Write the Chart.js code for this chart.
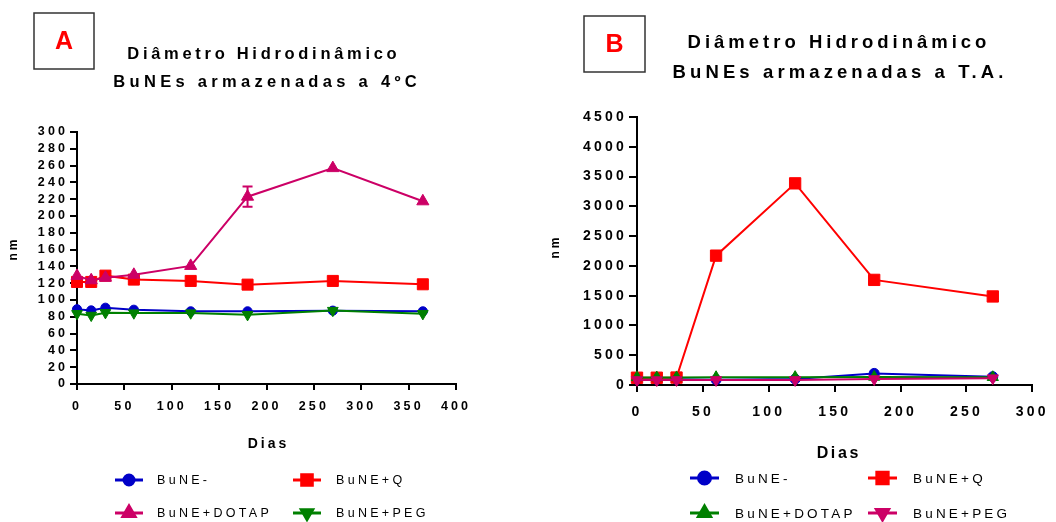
<!DOCTYPE html>
<html>
<head>
<meta charset="utf-8">
<script src="https://cdn.jsdelivr.net/npm/chart.js@4.4.1/dist/chart.umd.min.js"></script>
<style>
  html, body { margin: 0; padding: 0; background: #fff; width: 1056px; height: 522px; overflow: hidden; }
  .painel { position: absolute; top: 0; width: 528px; height: 522px; }
  #painelA { left: 0; }
  #painelB { left: 528px; }
</style>
</head>
<body>
<div class="painel" id="painelA"><canvas id="graficoA" width="528" height="522"></canvas></div>
<div class="painel" id="painelB"><canvas id="graficoB" width="528" height="522"></canvas></div>
<script>
// Diâmetro hidrodinâmico (nm) ao longo do tempo de armazenamento (dias)
const nomes = ['BuNE-', 'BuNE+Q', 'BuNE+DOTAP', 'BuNE+PEG'];

// A: armazenadas a 4ºC
const diasA = [0, 15, 30, 60, 120, 180, 270, 365];
const buneA = [89, 87.6, 90.8, 88.4, 86.5, 86.5, 87.3, 86.5];
const buneQA = [121.5, 121.5, 129, 124.3, 122.7, 118.3, 122.7, 118.7];
const buneDotapA = [128.7, 123.5, 126.5, 130, 140.6, 223, 257, 217.5];
const bunePegA = [83.7, 81.7, 84.9, 84.5, 84.5, 82.5, 87.5, 83.7];
const desvioDotapA = [0, 0, 0, 0, 0, 12, 0, 0];
const titulosA = ['Diâmetro Hidrodinâmico', 'BuNEs armazenadas a 4ºC'];

// B: armazenadas à temperatura ambiente
const diasB = [0, 15, 30, 60, 120, 180, 270];
const buneB = [95, 92, 95, 90, 100, 195, 140];
const buneQB = [122, 122, 125, 2172, 3386, 1765, 1487];
const buneDotapB = [128, 126, 127, 130, 132, 135, 130];
const bunePegB = [85, 83, 85, 85, 85, 100, 115];
const titulosB = ['Diâmetro Hidrodinâmico', 'BuNEs armazenadas a T.A.'];

const FONTE = "'Liberation Sans', Arial, Helvetica, sans-serif";
const AZUL = '#0000c8', VERMELHO = '#ff0000', MAGENTA = '#cc0066', VERDE = '#008000';

function pontos(dias, valores) {
  return dias.map((d, i) => ({ x: d, y: valores[i] }));
}

function serie(nome, dias, valores, cor, estilo, raio, rotacao, ordem) {
  return {
    label: nome,
    data: pontos(dias, valores),
    borderColor: cor,
    backgroundColor: cor,
    borderWidth: 2,
    pointStyle: estilo,
    pointRotation: rotacao,
    pointRadius: raio,
    pointBorderWidth: 1,
    pointBorderColor: cor,
    pointBackgroundColor: cor,
    tension: 0,
    fill: false,
    clip: false,
    order: ordem
  };
}

function textoEspacado(ctx, txt, x, y, esp, alinhamento) {
  ctx.letterSpacing = esp + 'px';
  ctx.textAlign = alinhamento || 'center';
  const dx = (alinhamento === 'left') ? 0 : esp / 2;
  ctx.fillText(txt, x + dx, y);
}

// Títulos, caixa da letra, rótulos dos eixos, legenda e barra de erro
const decoracao = {
  id: 'decoracao',
  beforeDraw(chart, args, o) {
    chart.ctx.letterSpacing = o.espacoTicks + 'px';
  },
  afterDatasetsDraw(chart, args, o) {
    if (!o.erros) return;
    const ctx = chart.ctx;
    const sx = chart.scales.x, sy = chart.scales.y;
    ctx.save();
    o.erros.forEach(e => {
      e.desvios.forEach((d, i) => {
        if (!d) return;
        const px = sx.getPixelForValue(e.dias[i]);
        const y1 = sy.getPixelForValue(e.valores[i] + d);
        const y2 = sy.getPixelForValue(e.valores[i] - d);
        ctx.strokeStyle = e.cor;
        ctx.lineWidth = 2;
        ctx.beginPath();
        ctx.moveTo(px, y1); ctx.lineTo(px, y2);
        ctx.moveTo(px - 5, y1); ctx.lineTo(px + 5, y1);
        ctx.moveTo(px - 5, y2); ctx.lineTo(px + 5, y2);
        ctx.stroke();
      });
    });
    ctx.restore();
  },
  afterDraw(chart, args, o) {
    const ctx = chart.ctx;
    ctx.save();
    ctx.fillStyle = '#000';
    ctx.textBaseline = 'middle';

    // títulos
    ctx.font = 'bold ' + o.titulo.tam + 'px ' + FONTE;
    o.titulo.linhas.forEach((t, i) => {
      textoEspacado(ctx, t, o.titulo.x[i], o.titulo.y[i], o.titulo.esp[i]);
    });

    // caixa com a letra do painel
    const c = o.caixa;
    ctx.strokeStyle = '#333';
    ctx.lineWidth = 1.5;
    ctx.strokeRect(c.x, c.y, c.w, c.h);
    ctx.fillStyle = '#ff0000';
    ctx.font = 'bold 25px ' + FONTE;
    textoEspacado(ctx, c.letra, c.x + c.w / 2, c.y + c.h / 2 + 1, 0);

    // rótulos dos eixos
    ctx.fillStyle = '#000';
    ctx.font = 'bold ' + o.eixoX.tam + 'px ' + FONTE;
    textoEspacado(ctx, 'Dias', o.eixoX.x, o.eixoX.y, o.eixoX.esp);
    ctx.save();
    ctx.translate(o.eixoY.x, o.eixoY.y);
    ctx.rotate(-Math.PI / 2);
    ctx.font = 'bold ' + o.eixoY.tam + 'px ' + FONTE;
    textoEspacado(ctx, 'nm', 0, 0, o.eixoY.esp);
    ctx.restore();

    // legenda em duas colunas
    const L = o.legenda;
    chart.data.datasets.forEach((ds, i) => {
      const col = i % 2, lin = Math.floor(i / 2);
      const x1 = L.colX[col], x2 = x1 + L.larguraLinha, y = L.linY[lin];
      ctx.strokeStyle = ds.borderColor;
      ctx.lineWidth = 3;
      ctx.beginPath();
      ctx.moveTo(x1, y); ctx.lineTo(x2, y);
      ctx.stroke();
      ctx.fillStyle = ds.borderColor;
      Chart.helpers.drawPoint(ctx, {
        pointStyle: ds.pointStyle,
        rotation: ds.pointRotation,
        radius: L.raios[i],
        borderWidth: 1
      }, (x1 + x2) / 2, y);
      ctx.fillStyle = '#000';
      ctx.font = L.tam + 'px ' + FONTE;
      textoEspacado(ctx, ds.label, L.textoX[col], y + 1, L.esp, 'left');
    });
    ctx.restore();
  }
};

function eixos(cfg) {
  const fonteTick = { family: FONTE, size: cfg.tamTick, weight: 'bold' };
  const semSeparador = v => String(v);
  return {
    x: {
      type: 'linear', min: cfg.xMin, max: cfg.xMax,
      afterFit: s => { s.height = cfg.alturaX; },
      ticks: { stepSize: cfg.xPasso, color: '#000', font: fonteTick, padding: cfg.padX, maxRotation: 0, autoSkip: false, callback: semSeparador },
      grid: { display: true, drawOnChartArea: false, drawTicks: true, tickLength: cfg.tickX, color: '#000', lineWidth: 2 },
      border: { display: true, color: '#000', width: 2 }
    },
    y: {
      type: 'linear', min: cfg.yMin, max: cfg.yMax,
      afterFit: s => { s.width = cfg.larguraY; },
      ticks: { stepSize: cfg.yPasso, color: '#000', font: fonteTick, padding: cfg.padY, autoSkip: false, callback: semSeparador },
      grid: { display: true, drawOnChartArea: false, drawTicks: true, tickLength: cfg.tickY, color: '#000', lineWidth: 2 },
      border: { display: true, color: '#000', width: 2 }
    }
  };
}

const opcoesBase = {
  responsive: false,
  animation: false,
  devicePixelRatio: 1,
  events: [],
  plugins: { legend: { display: false }, title: { display: false }, tooltip: { enabled: false } }
};

// Painel A
new Chart(document.getElementById('graficoA'), {
  type: 'line',
  data: {
    datasets: [
      serie(nomes[0], diasA, buneA, AZUL, 'circle', 4.6, 0, 3),
      serie(nomes[1], diasA, buneQA, VERMELHO, 'rect', 7.8, 0, 2),
      serie(nomes[2], diasA, buneDotapA, MAGENTA, 'triangle', 7, 0, 1),
      serie(nomes[3], diasA, bunePegA, VERDE, 'triangle', 6.2, 180, 0)
    ]
  },
  options: Object.assign({}, opcoesBase, {
    layout: { padding: { left: 0, top: 132, right: 72, bottom: 0 } },
    scales: eixos({ xMin: 0, xMax: 400, xPasso: 50, yMin: 0, yMax: 300, yPasso: 20,
      alturaX: 138, larguraY: 77, tamTick: 12.5, padX: 9, tickX: 6, padY: 2, tickY: 7 }),
    plugins: Object.assign({}, opcoesBase.plugins, {
      decoracao: {
        espacoTicks: 3.1,
        erros: [{ dias: diasA, valores: buneDotapA, desvios: desvioDotapA, cor: MAGENTA }],
        titulo: { linhas: titulosA, x: [262, 265], y: [54, 82], tam: 16.5, esp: [3.7, 4.3] },
        caixa: { x: 34, y: 13, w: 60, h: 56, letra: 'A' },
        eixoX: { x: 267, y: 444, tam: 14, esp: 3 },
        eixoY: { x: 14, y: 250, tam: 12, esp: 3 },
        legenda: { colX: [115, 293], larguraLinha: 28, textoX: [157, 336], linY: [480, 513],
          raios: [5, 7.5, 7, 6.5], tam: 12.5, esp: 3.3 }
      }
    })
  }),
  plugins: [decoracao]
});

// Painel B
new Chart(document.getElementById('graficoB'), {
  type: 'line',
  data: {
    datasets: [
      serie(nomes[0], diasB, buneB, AZUL, 'circle', 5, 0, 3),
      serie(nomes[1], diasB, buneQB, VERMELHO, 'rect', 8, 0, 2),
      serie(nomes[2], diasB, buneDotapB, VERDE, 'triangle', 6.5, 0, 1),
      serie(nomes[3], diasB, bunePegB, MAGENTA, 'triangle', 6.5, 180, 0)
    ]
  },
  options: Object.assign({}, opcoesBase, {
    layout: { padding: { left: 0, top: 117, right: 16, bottom: 0 } },
    scales: eixos({ xMin: 0, xMax: 300, xPasso: 50, yMin: 0, yMax: 4500, yPasso: 500,
      alturaX: 137, larguraY: 109, tamTick: 14, padX: 12, tickX: 7, padY: 2, tickY: 8 }),
    plugins: Object.assign({}, opcoesBase.plugins, {
      decoracao: {
        espacoTicks: 3.2,
        titulo: { linhas: titulosB, x: [309, 310], y: [43, 73], tam: 18.5, esp: [4.0, 4.1] },
        caixa: { x: 56, y: 16, w: 61, h: 56, letra: 'B' },
        eixoX: { x: 309.5, y: 454, tam: 16, esp: 2.6 },
        eixoY: { x: 28, y: 248, tam: 12, esp: 3 },
        legenda: { colX: [162, 340], larguraLinha: 29, textoX: [207, 385], linY: [478, 513],
          raios: [6, 8, 7, 7], tam: 13.5, esp: 3.2 }
      }
    })
  }),
  plugins: [decoracao]
});
</script>
</body>
</html>
